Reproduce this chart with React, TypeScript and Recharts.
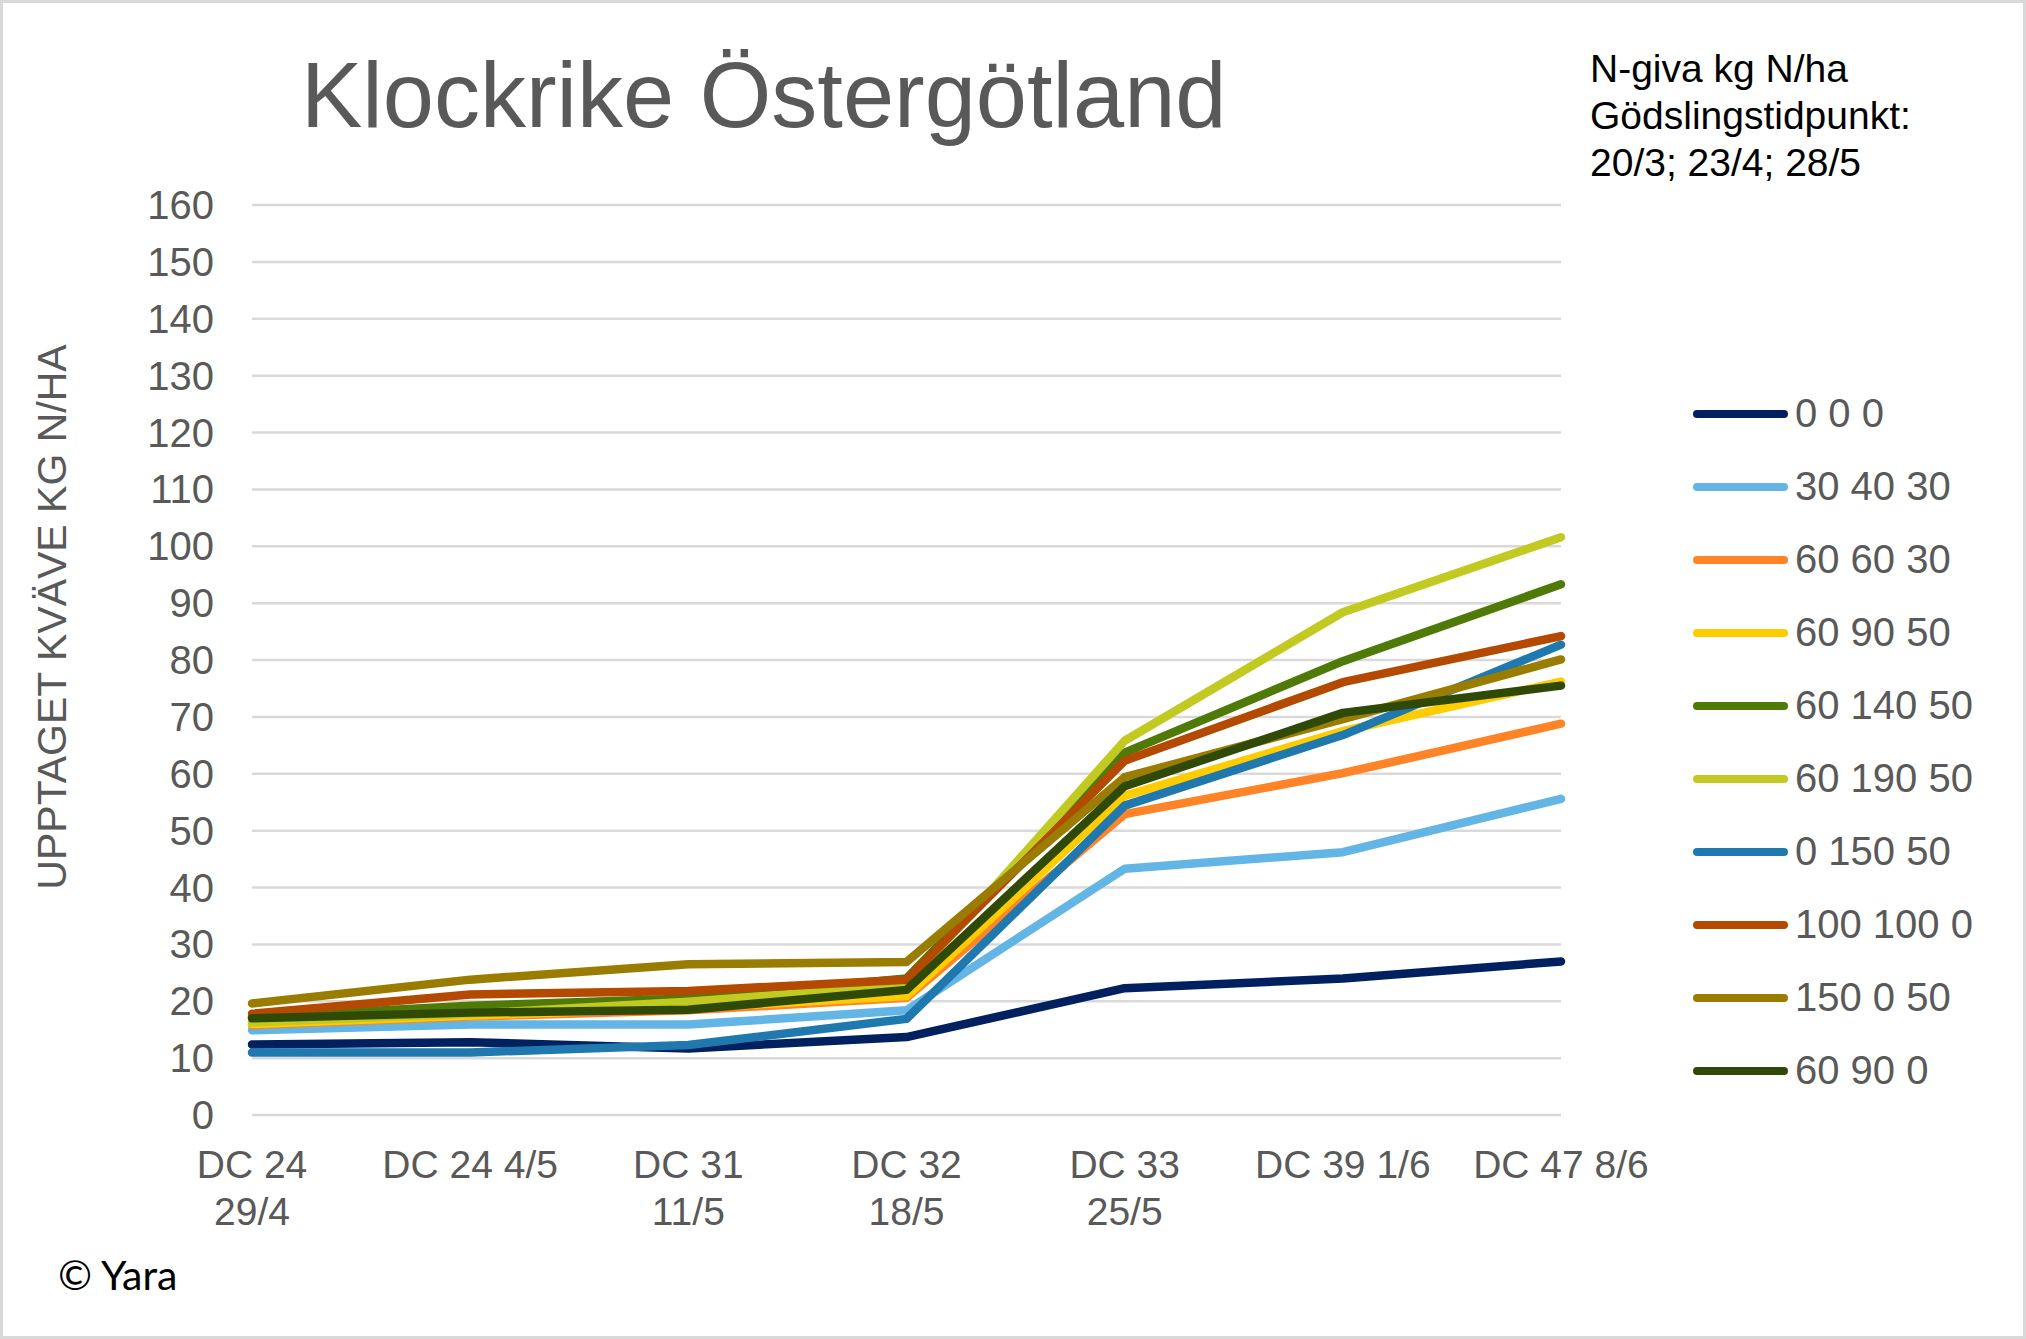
import { CartesianGrid, Line, LineChart, XAxis, YAxis } from "recharts";

const categories = [
  "DC 24 29/4",
  "DC 24 4/5",
  "DC 31 11/5",
  "DC 32 18/5",
  "DC 33 25/5",
  "DC 39 1/6",
  "DC 47 8/6",
];

// tick labels as they wrap in the original
const tickLabels = [
  ["DC 24", "29/4"],
  ["DC 24 4/5"],
  ["DC 31", "11/5"],
  ["DC 32", "18/5"],
  ["DC 33", "25/5"],
  ["DC 39 1/6"],
  ["DC 47 8/6"],
];

const yTicks = [0, 10, 20, 30, 40, 50, 60, 70, 80, 90, 100, 110, 120, 130, 140, 150, 160];

const seriesNames = [
  "0 0 0",
  "30 40 30",
  "60 60 30",
  "60 90 50",
  "60 140 50",
  "60 190 50",
  "0 150 50",
  "100 100 0",
  "150 0 50",
  "60 90 0",
];

const seriesColors = [
  "#002060",
  "#63B5E5",
  "#FF8427",
  "#FFCC00",
  "#507A07",
  "#C2CA21",
  "#1F78AE",
  "#B34A00",
  "#9A7D00",
  "#2F4A06",
];

const s000 = [12.4, 12.8, 11.7, 13.7, 22.3, 24.0, 27.0];
const s304030 = [14.9, 15.9, 15.9, 18.4, 43.3, 46.2, 55.6];
const s606030 = [15.8, 17.3, 18.4, 20.6, 52.9, 60.1, 68.8];
const s609050 = [16.0, 17.5, 18.8, 20.9, 56.1, 67.5, 76.2];
const s6014050 = [17.2, 19.2, 20.5, 24.0, 63.7, 79.8, 93.3];
const s6019050 = [16.3, 17.8, 19.9, 22.8, 65.8, 88.4, 101.6];
const s015050 = [11.0, 11.0, 12.3, 16.9, 54.4, 66.8, 82.7];
const s1001000 = [17.8, 21.2, 21.8, 23.8, 62.3, 76.1, 84.2];
const s150050 = [19.6, 23.8, 26.5, 26.9, 59.4, 69.6, 80.1];
const s60900 = [17.0, 18.0, 18.5, 22.0, 57.8, 70.7, 75.5];

const seriesValues = [
  s000,
  s304030,
  s606030,
  s609050,
  s6014050,
  s6019050,
  s015050,
  s1001000,
  s150050,
  s60900,
];

const data = categories.map((name, i) => {
  const row: Record<string, string | number> = { name };
  seriesNames.forEach((s, k) => {
    row[s] = seriesValues[k][i];
  });
  return row;
});

const FONT = "'Liberation Sans', Arial, sans-serif";
const GREY = "#595959";

function XTick({ x, y, index }: any) {
  const lines = tickLabels[index] || [];
  return (
    <text x={x} textAnchor="middle" fill={GREY} fontFamily={FONT} fontSize={39}>
      {lines.map((l, i) => (
        <tspan key={i} x={x} y={y + 63 + i * 47}>
          {l}
        </tspan>
      ))}
    </text>
  );
}

function YTick({ y, payload }: any) {
  return (
    <text
      x={214}
      y={y}
      dy={14}
      textAnchor="end"
      fill={GREY}
      fontFamily={FONT}
      fontSize={40}
    >
      {payload.value}
    </text>
  );
}

// legend kept outside recharts so it stays in series order and doesn't shrink the plot
function SeriesLegend() {
  return (
    <div style={{ position: "absolute", left: 1690, top: 374 }}>
      {seriesNames.map((s, k) => (
        <div key={s} style={{ display: "flex", alignItems: "center", height: 73 }}>
          <span
            style={{
              display: "inline-block",
              width: 95,
              height: 8,
              borderRadius: 4,
              background: seriesColors[k],
            }}
          />
          <span
            style={{
              marginLeft: 7,
              fontFamily: FONT,
              fontSize: 40,
              color: GREY,
              lineHeight: "73px",
              whiteSpace: "nowrap",
            }}
          >
            {s}
          </span>
        </div>
      ))}
    </div>
  );
}

export default function App() {
  return (
    <div
      style={{
        position: "absolute",
        left: 0,
        top: 0,
        width: 2026,
        height: 1339,
        background: "#fff",
        boxSizing: "border-box",
        border: "3px solid #D9D9D9",
        overflow: "hidden",
      }}
    >
      <div style={{ position: "absolute", left: -3, top: -3 }}>
        <LineChart
          width={2026}
          height={1339}
          data={data}
          margin={{ top: 205, right: 465, bottom: 124, left: 0 }}
        >
          <text x={301} y={127} fill={GREY} fontFamily={FONT} fontSize={92}>
            Klockrike Östergötland
          </text>
          <text
            transform="translate(66 617) rotate(-90)"
            textAnchor="middle"
            fill={GREY}
            fontFamily={FONT}
            fontSize={41}
          >
            UPPTAGET KVÄVE KG N/HA
          </text>
          <CartesianGrid vertical={false} stroke="#D9D9D9" strokeWidth={2.5} />
          <XAxis
            dataKey="name"
            height={100}
            interval={0}
            axisLine={false}
            tickLine={false}
            tickSize={0}
            tickMargin={0}
            tick={<XTick />}
          />
          <YAxis
            width={252}
            domain={[0, 160]}
            ticks={yTicks}
            axisLine={false}
            tickLine={false}
            tick={<YTick />}
          />
          {seriesNames.map((s, k) => (
            <Line
              key={s}
              type="linear"
              dataKey={s}
              stroke={seriesColors[k]}
              strokeWidth={8.5}
              strokeLinejoin="round"
              strokeLinecap="round"
              dot={false}
              activeDot={false}
              isAnimationActive={false}
            />
          ))}
        </LineChart>
      </div>
      <SeriesLegend />
      <div
        style={{
          position: "absolute",
          left: 1587,
          top: 42,
          fontFamily: FONT,
          fontSize: 39,
          lineHeight: "47px",
          color: "#000",
          whiteSpace: "nowrap",
        }}
      >
        N-giva kg N/ha
        <br />
        Gödslingstidpunkt:
        <br />
        20/3; 23/4; 28/5
      </div>
      <div
        style={{
          position: "absolute",
          left: 55,
          top: 1247,
          fontFamily: "Lato, 'Open Sans', sans-serif",
          fontSize: 41,
          color: "#000",
          whiteSpace: "nowrap",
        }}
      >
        © Yara
      </div>
    </div>
  );
}
